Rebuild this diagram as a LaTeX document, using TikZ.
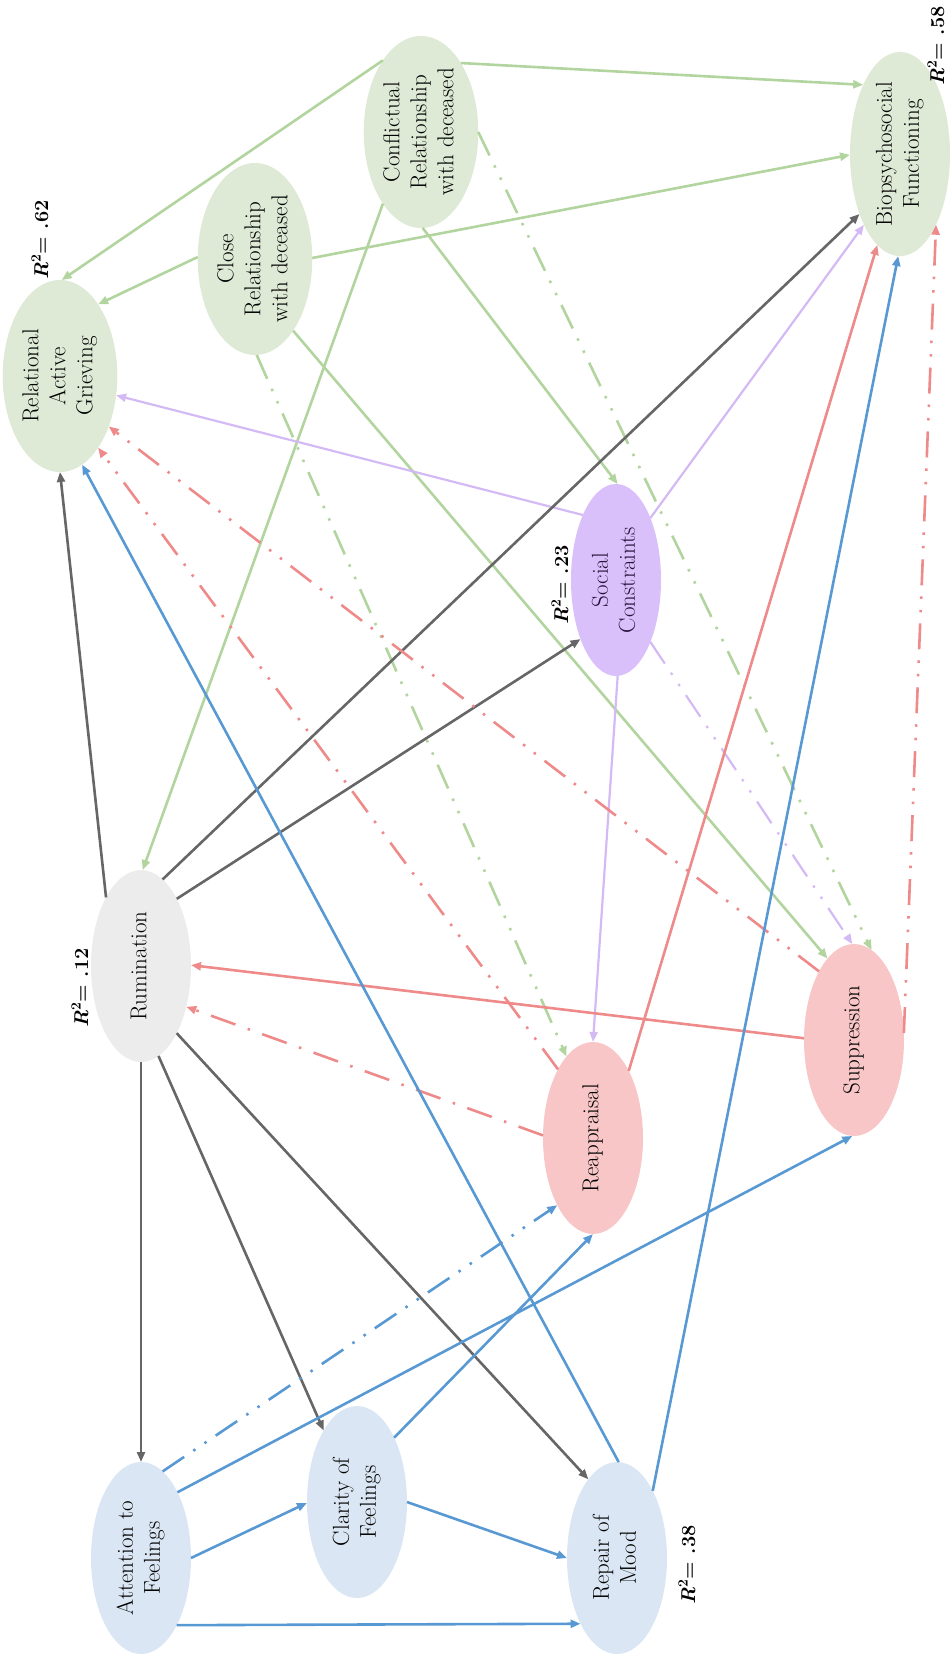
\documentclass[tikz,border=0pt]{standalone}
\usepackage{graphicx}
\usetikzlibrary{shapes.geometric, arrows.meta}

\definecolor{grfill}{RGB}{222,234,214}
\definecolor{blfill}{RGB}{218,230,243}
\definecolor{pkfill}{RGB}{248,198,198}
\definecolor{pufill}{RGB}{218,192,250}
\definecolor{gyfill}{RGB}{236,236,236}
\definecolor{grline}{RGB}{178,212,158}
\definecolor{blline}{RGB}{88,153,212}
\definecolor{gyline}{RGB}{102,102,102}
\definecolor{pkline}{RGB}{238,138,138}
\definecolor{puline}{RGB}{212,186,244}

\newcommand{\vlabel}[1]{\rotatebox{90}{\begin{tabular}{@{}c@{}}#1\end{tabular}}}
\newcommand{\rsq}[1]{\rotatebox{90}{\textbf{\textit{R}\textsuperscript{2}= #1}}}

\begin{document}
\begin{tikzpicture}[x=1pt,y=-1pt,>={Triangle[length=10pt,width=8pt]},line width=2.6pt]
\tikzstyle{var}=[ellipse,minimum width=100pt,minimum height=192pt,inner sep=0pt,outer sep=0pt,font=\fontsize{23}{27}\selectfont]
\tikzstyle{relvar}=[var,fill=grfill]
\tikzstyle{emovar}=[var,fill=blfill]
\tikzstyle{regvar}=[var,fill=pkfill]
\tikzstyle{rsqlabel}=[font=\fontsize{20}{24}\selectfont]
\tikzstyle{gline}=[->,draw=grline,color=grline]
\tikzstyle{bline}=[->,draw=blline,color=blline]
\tikzstyle{kline}=[->,draw=gyline,color=gyline]
\tikzstyle{pline}=[->,draw=pkline,color=pkline]
\tikzstyle{uline}=[->,draw=puline,color=puline]
\tikzstyle{ddd}=[dash pattern=on 26pt off 11pt on 2.5pt off 11pt on 2.5pt off 11pt]
\tikzstyle{dd}=[dash pattern=on 26pt off 13pt on 2.5pt off 13pt]

\useasboundingbox (0,0) rectangle (951,1657);

% variables
\node[relvar] (RAG) at (60,376) {\vlabel{Relational\\Active\\Grieving}};
\node[relvar] (CR) at (255,259) {\vlabel{Close\\Relationship\\with deceased}};
\node[relvar] (CF) at (421,132) {\vlabel{Conflictual\\Relationship\\with deceased}};
\node[relvar] (BF) at (900,154) {\vlabel{Biopsychosocial\\Functioning}};
\node[var,fill=pufill,minimum width=90pt,text={rgb,255:red,40;green,20;blue,60}] (SC) at (616,580) {\vlabel{Social\\Constraints}};
\node[var,fill=gyfill] (RU) at (141,966) {\vlabel{Rumination}};
\node[regvar] (RE) at (593,1138) {\vlabel{Reappraisal}};
\node[regvar] (SU) at (854,1040) {\vlabel{Suppression}};
\node[emovar] (AT) at (141,1558) {\vlabel{Attention to\\Feelings}};
\node[emovar] (CL) at (357,1502) {\vlabel{Clarity of\\Feelings}};
\node[emovar] (RM) at (617,1558) {\vlabel{Repair of\\Mood}};

% explained variance
\node[rsqlabel] (rRAG) at (40,240) {\rsq{.62}};
\node[rsqlabel] (rBF) at (936,46) {\rsq{.58}};
\node[rsqlabel] (rSC) at (560,585) {\rsq{.23}};
\node[rsqlabel] (rRU) at (80,988) {\rsq{.12}};
\node[rsqlabel] (rRM) at (687,1565) {\rsq{.38}};

% relationship with deceased
\path
(CF.118) edge[gline] (RAG.89)
(CF.60) edge[gline] (BF.118)
(CR.178) edge[gline] (RAG.62)
(CR.1) edge[gline] (BF.181)
(CF.242) edge[gline] (RU.89)
(CF.271) edge[gline] (SC.89)
(CR.298) edge[gline] (SU.108)
(CF.0) edge[gline,ddd] (SU.79)
(CR.271) edge[gline,ddd] (RE.108);

% social constraints
\path
(SC.117) edge[uline,line width=2.2pt] (RAG.341)
(SC.61) edge[uline,line width=2.2pt] (BF.243)
(SC.271) edge[uline,line width=2.2pt] (RE.90)
(SC.299) edge[uline,line width=2.2pt,ddd] (SU.91);

% rumination
\path
(RU.117) edge[kline] (RAG.270)
(RU.76) edge[kline] (BF.236)
(RU.62) edge[kline] (SC.239)
(RU.270) edge[kline] (AT.90)
(RU.281) edge[kline] (CL.115)
(RU.298) edge[kline] (RM.110);

% emotion regulation
\path
(SU.178) edge[pline] (RU.1)
(RE.177) edge[pline,dd] (RU.318)
(RE.117) edge[pline,ddd] (RAG.298)
(SU.117) edge[pline,ddd] (RAG.314)
(RE.62) edge[pline] (BF.256)
(SU.8) edge[pline,ddd] (BF.297);

% emotional intelligence
\path
(AT.0) edge[bline] (CL.181)
(AT.298) edge[bline] (RM.241)
(CL.0) edge[bline] (RM.180)
(AT.76) edge[bline,ddd] (RE.242)
(AT.61) edge[bline] (SU.269)
(CL.60) edge[bline] (RE.270)
(RM.89) edge[bline] (RAG.284)
(RM.62) edge[bline] (BF.269);
\end{tikzpicture}
\end{document}
